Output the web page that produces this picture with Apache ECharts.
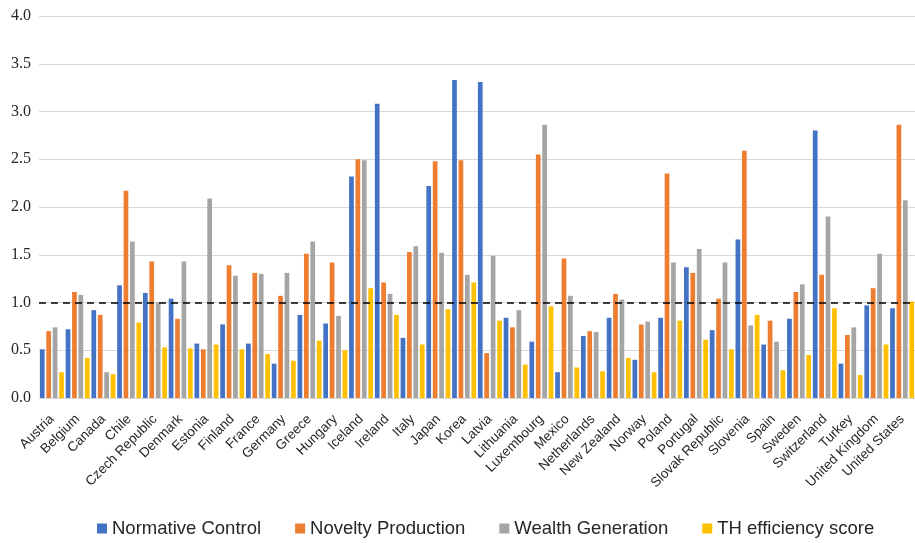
<!DOCTYPE html>
<html>
<head>
<meta charset="utf-8">
<script src="https://cdn.jsdelivr.net/npm/echarts@6/dist/echarts.min.js"></script>
<style>
  html, body { margin: 0; padding: 0; background: #fff; }
  #chart { width: 915px; height: 543px; }
</style>
</head>
<body>
<div id="chart"></div>
<script>
// OECD countries compared on three dimensions plus the efficiency score
const countries = ['Austria', 'Belgium', 'Canada', 'Chile', 'Czech Republic', 'Denmark', 'Estonia',
  'Finland', 'France', 'Germany', 'Greece', 'Hungary', 'Iceland', 'Ireland', 'Italy', 'Japan',
  'Korea', 'Latvia', 'Lithuania', 'Luxembourg', 'Mexico', 'Netherlands', 'New Zealand', 'Norway',
  'Poland', 'Portugal', 'Slovak Republic', 'Slovenia', 'Spain', 'Sweden', 'Switzerland', 'Turkey',
  'United Kingdom', 'United States'];

const normativeControl = [0.51, 0.72, 0.92, 1.18, 1.10, 1.04, 0.57, 0.77, 0.57, 0.36, 0.87, 0.78,
  2.32, 3.08, 0.63, 2.22, 3.33, 3.31, 0.84, 0.59, 0.27, 0.65, 0.84, 0.40, 0.84, 1.37, 0.71, 1.66,
  0.56, 0.83, 2.80, 0.36, 0.97, 0.94];

const noveltyProduction = [0.70, 1.11, 0.87, 2.17, 1.43, 0.83, 0.51, 1.39, 1.31, 1.07, 1.51, 1.42,
  2.50, 1.21, 1.53, 2.48, 2.49, 0.47, 0.74, 2.55, 1.46, 0.70, 1.09, 0.77, 2.35, 1.31, 1.04, 2.59,
  0.81, 1.11, 1.29, 0.66, 1.15, 2.86];

const wealthGeneration = [0.74, 1.08, 0.27, 1.64, 1.00, 1.43, 2.09, 1.28, 1.30, 1.31, 1.64, 0.86,
  2.49, 1.09, 1.59, 1.52, 1.29, 1.49, 0.92, 2.86, 1.07, 0.69, 1.03, 0.80, 1.42, 1.56, 1.42, 0.76,
  0.59, 1.19, 1.90, 0.74, 1.51, 2.07];

const thEfficiency = [0.27, 0.42, 0.25, 0.79, 0.53, 0.52, 0.56, 0.51, 0.46, 0.39, 0.60, 0.50,
  1.15, 0.87, 0.56, 0.93, 1.21, 0.81, 0.35, 0.96, 0.32, 0.28, 0.42, 0.27, 0.81, 0.61, 0.51, 0.87,
  0.29, 0.45, 0.94, 0.24, 0.56, 1.01];

const referenceLevel = 1.0;

const seriesNames = ['Normative Control', 'Novelty Production', 'Wealth Generation', 'TH efficiency score'];
const seriesColors = ['#4472C4', '#ED7D31', '#A5A5A5', '#FFC000'];
const seriesData = [normativeControl, noveltyProduction, wealthGeneration, thEfficiency];

const chart = echarts.init(document.getElementById('chart'), null, { renderer: 'canvas' });

const series = seriesNames.map((name, i) => {
  const s = {
    name: name,
    type: 'bar',
    data: seriesData[i],
    barGap: '36%',
    barCategoryGap: '7%',
    itemStyle: { color: seriesColors[i] },
    emphasis: { disabled: true }
  };
  if (i === seriesNames.length - 1) {
    s.markLine = {
      silent: true,
      symbol: 'none',
      label: { show: false },
      lineStyle: { color: '#000000', type: [7, 5], width: 1.6 },
      data: [{ yAxis: referenceLevel }]
    };
  }
  return s;
});

chart.setOption({
  animation: false,
  backgroundColor: '#ffffff',
  grid: { left: 39, right: 0, top: 16, bottom: 145, containLabel: false },
  legend: {
    bottom: 0,
    left: 92,
    itemWidth: 10,
    itemHeight: 10,
    itemGap: 34,
    icon: 'rect',
    textStyle: { fontFamily: 'Liberation Sans, Arial, sans-serif', fontSize: 18.5, color: '#262626' },
    data: seriesNames
  },
  xAxis: {
    type: 'category',
    data: countries,
    axisLine: { show: true, lineStyle: { color: '#d9d9d9', width: 1 } },
    axisTick: { show: false },
    axisLabel: {
      interval: 0,
      rotate: 45,
      margin: 19,
      fontFamily: 'Liberation Sans, Arial, sans-serif',
      fontSize: 13.5,
      color: '#262626'
    }
  },
  yAxis: {
    type: 'value',
    min: 0,
    max: 4,
    interval: 0.5,
    axisLine: { show: false },
    axisTick: { show: false },
    splitLine: { show: true, lineStyle: { color: '#d9d9d9', width: 1 } },
    axisLabel: {
      margin: 8,
      fontFamily: 'Liberation Serif, Times New Roman, serif',
      fontSize: 16,
      color: '#262626',
      formatter: v => v.toFixed(1)
    }
  },
  series: series
});
</script>
</body>
</html>
